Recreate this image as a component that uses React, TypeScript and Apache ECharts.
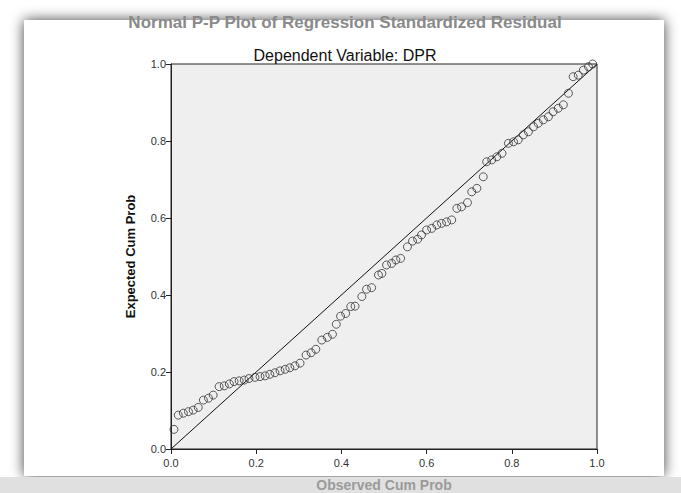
import React, { useEffect, useRef } from "react";
import * as echarts from "echarts";

const titleText = "Normal P-P Plot of Regression Standardized Residual";
const subtitleText = "Dependent Variable: DPR";
const xAxisName = "Observed Cum Prob";
const yAxisName = "Expected Cum Prob";
const tickValues = [0, 0.2, 0.4, 0.6, 0.8, 1.0];

const observed = [
  0.007, 0.017, 0.029, 0.041, 0.052, 0.064, 0.076, 0.088, 0.099, 0.113,
  0.125, 0.137, 0.148, 0.16, 0.172, 0.183, 0.197, 0.209, 0.221, 0.232,
  0.244, 0.256, 0.268, 0.279, 0.291, 0.303, 0.317, 0.329, 0.34, 0.354,
  0.367, 0.379, 0.388, 0.398, 0.41, 0.422, 0.432, 0.448, 0.459, 0.471,
  0.487, 0.495, 0.506, 0.518, 0.528, 0.539, 0.555, 0.567, 0.579, 0.588,
  0.6, 0.612, 0.624, 0.635, 0.647, 0.659, 0.671, 0.682, 0.696, 0.706,
  0.718, 0.733, 0.741, 0.753, 0.765, 0.777, 0.792, 0.804, 0.815, 0.827,
  0.839, 0.851, 0.862, 0.874, 0.886, 0.897, 0.909, 0.921, 0.933, 0.944,
  0.956, 0.968, 0.98, 0.99,
];
const expected = [
  0.051, 0.088, 0.093, 0.097, 0.101, 0.108, 0.127, 0.132, 0.14, 0.162,
  0.164, 0.169, 0.175, 0.177, 0.179, 0.183, 0.186, 0.188, 0.19, 0.194,
  0.198, 0.203, 0.207, 0.211, 0.216, 0.223, 0.244, 0.25, 0.259, 0.283,
  0.29, 0.298, 0.324, 0.345, 0.352, 0.37, 0.371, 0.396, 0.415, 0.419,
  0.452, 0.456, 0.478, 0.482, 0.491, 0.495, 0.525, 0.54, 0.545, 0.556,
  0.569, 0.573, 0.582, 0.586, 0.59, 0.595, 0.625, 0.629, 0.64, 0.668,
  0.677, 0.707, 0.746, 0.751, 0.759, 0.768, 0.794, 0.798, 0.803, 0.816,
  0.824, 0.837, 0.846, 0.855, 0.863, 0.876, 0.885, 0.894, 0.924, 0.967,
  0.971, 0.984, 0.993, 1.0,
];
const refLine = [
  [0, 0],
  [1, 1],
];

export default function App() {
  const ref = useRef<HTMLDivElement>(null);
  useEffect(() => {
    document.body.style.margin = "0";
    const chart = echarts.init(ref.current!, null, { renderer: "svg" });
    const font = "Liberation Sans, Arial, sans-serif";
    const points = observed.map((x, i) => [x, expected[i]]);
    chart.setOption({
      animation: false,
      backgroundColor: "#ffffff",
      textStyle: { fontFamily: font },
      graphic: [
        {
          type: "rect",
          z: -100,
          shape: { x: 24, y: 20, width: 640, height: 456 },
          style: {
            fill: "#ffffff",
            shadowBlur: 14,
            shadowColor: "rgba(0,0,0,0.75)",
          },
        },
        {
          type: "rect",
          z: -99,
          shape: { x: 0, y: 477, width: 681, height: 16 },
          style: { fill: "#e0e0e0" },
        },
      ],
      title: [
        {
          text: titleText,
          left: 340,
          top: 9,
          textAlign: "center",
          textStyle: {
            fontFamily: font,
            fontSize: 17,
            fontWeight: "bold",
            color: "#8a8a8a",
          },
        },
        {
          text: subtitleText,
          left: 340,
          top: 42,
          textAlign: "center",
          textStyle: {
            fontFamily: font,
            fontSize: 16,
            fontWeight: 500,
            color: "#111",
          },
        },
      ],
      grid: {
        left: 171,
        top: 64,
        width: 426,
        height: 385,
        containLabel: false,
        outerBoundsMode: "none",
        show: true,
        backgroundColor: "#efefef",
        borderColor: "#222",
        borderWidth: 1,
      },
      xAxis: {
        type: "value",
        min: 0,
        max: 1,
        interval: 0.2,
        name: xAxisName,
        nameLocation: "middle",
        nameGap: 29,
        nameTextStyle: {
          fontFamily: font,
          fontSize: 14,
          fontWeight: "bold",
          color: "#9a9a9a",
        },
        axisLine: { lineStyle: { color: "#222", width: 1 } },
        axisTick: { length: 5, lineStyle: { color: "#222" } },
        axisLabel: {
          color: "#333",
          fontSize: 11,
          margin: 8,
          formatter: (v: number) =>
            tickValues.some((t) => Math.abs(t - v) < 1e-9) ? v.toFixed(1) : "",
        },
        splitLine: { show: false },
      },
      yAxis: {
        type: "value",
        min: 0,
        max: 1,
        interval: 0.2,
        name: yAxisName,
        nameLocation: "middle",
        nameGap: 34,
        nameTextStyle: {
          fontFamily: font,
          fontSize: 13,
          fontWeight: "bold",
          color: "#111",
        },
        axisLine: { lineStyle: { color: "#222", width: 1 } },
        axisTick: { length: 5, lineStyle: { color: "#222" } },
        axisLabel: {
          color: "#333",
          fontSize: 11,
          margin: 5,
          formatter: (v: number) => v.toFixed(1),
        },
        splitLine: { show: false },
      },
      series: [
        {
          type: "line",
          data: refLine,
          symbol: "none",
          lineStyle: { color: "#111", width: 1 },
          z: 2,
        },
        {
          type: "scatter",
          data: points,
          symbol: "circle",
          symbolSize: 8,
          itemStyle: {
            color: "rgba(0,0,0,0)",
            borderColor: "#333",
            borderWidth: 1,
          },
          z: 3,
        },
      ],
    });
    return () => chart.dispose();
  }, []);
  return (
    <div
      ref={ref}
      style={{ position: "absolute", left: 0, top: 0, width: 681, height: 493 }}
    />
  );
}
